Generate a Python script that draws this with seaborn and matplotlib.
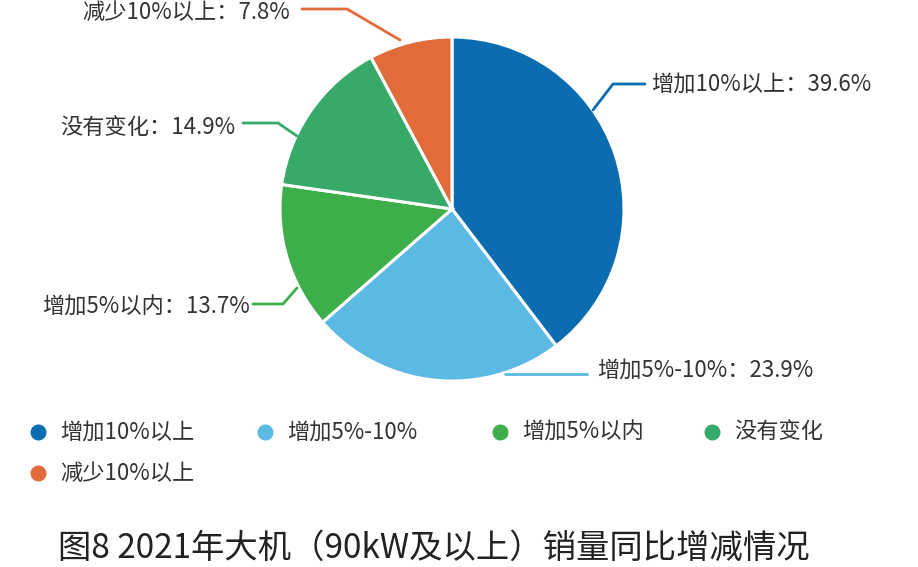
import matplotlib
matplotlib.use("Agg")
import matplotlib.pyplot as plt
from matplotlib.lines import Line2D
import seaborn as sns

# data
categories = ['增加10%以上', '增加5%-10%', '增加5%以内', '没有变化', '减少10%以上']
shares = [39.6, 23.9, 13.7, 14.9, 7.8]
colors = ['#0b6db0', '#5bb9e3', '#3dae4a', '#37aa69', '#e26b3b']
title = '图8 2021年大机（90kW及以上）销量同比增减情况'

sns.set_theme(style='white')
plt.rcParams['font.family'] = ['Noto Sans CJK SC', 'DejaVu Sans']

W, H = 918, 567
fig = plt.figure(figsize=(W / 100, H / 100), dpi=100)
fig.patch.set_facecolor('white')


def px(x, y):
    """pixel coords (origin top-left) -> figure fraction"""
    return x / W, 1 - y / H


# pie axes: centre (452, 209), radius 172 px
cx, cy, r = 452, 209, 172
ax = fig.add_axes([(cx - r) / W, 1 - (cy + r) / H, 2 * r / W, 2 * r / H])
ax.pie(shares, colors=colors, startangle=90, counterclock=False,
       wedgeprops=dict(edgecolor='white', linewidth=2.2))
ax.set_aspect('equal')
ax.set_xlim(-1, 1)
ax.set_ylim(-1, 1)
ax.axis('off')

# leader lines and labels (layout in pixel space)
leaders = [
    [(593, 110), (613, 84), (645, 84)],
    [(505, 374), (587, 374)],
    [(297, 288), (283, 304), (253, 304)],
    [(297, 136), (278, 123), (243, 123)],
    [(400, 40), (347, 9), (302, 9)],
]
label_pos = [(651, 84, 'left'), (597, 370, 'left'), (250, 307, 'right'),
             (235, 127, 'right'), (290, 12, 'right')]

for cat, val, col, pts, (tx, ty, ha) in zip(categories, shares, colors, leaders, label_pos):
    xs, ys = zip(*[px(x, y) for x, y in pts])
    fig.add_artist(Line2D(xs, ys, color=col, lw=2))
    fx, fy = px(tx, ty)
    fig.text(fx, fy, f'{cat}：{val}%', ha=ha, va='center', fontsize=16,
             color='#333333', fontweight='light')

# legend, drawn item by item to keep the row-wise order and spacing
legend_pos = [(38, 432), (265, 432), (500, 432), (712, 432), (38, 473)]
for cat, col, (mx, my) in zip(categories, colors, legend_pos):
    fx, fy = px(mx, my)
    fig.add_artist(Line2D([fx], [fy], marker='o', markersize=10.5,
                          color=col, linestyle='none'))
    fx, fy = px(mx + 22, my)
    fig.text(fx, fy, cat, ha='left', va='center', fontsize=16,
             color='#333333', fontweight='light')

# caption
tx, ty = px(434, 548)
fig.text(tx, ty, title, ha='center', va='center', fontsize=24, color='#222222')

fig.savefig('out.png', dpi=100)
